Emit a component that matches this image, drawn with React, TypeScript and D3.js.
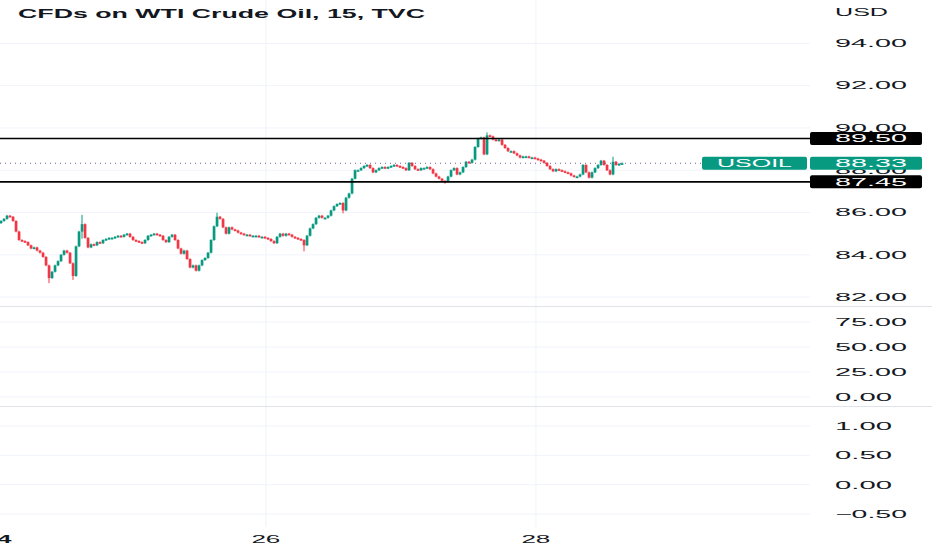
import React from 'react';
import * as d3 from 'd3';

// 15-minute closes left to right
const closes: number[] = [
  85.6, 85.7, 85.85, 85.8, 85.6, 85.1, 84.7, 84.65, 84.6, 84.45,
  84.3, 84.35, 84.2, 84.1, 83.9, 83.5, 82.9, 83.2, 83.5, 83.7,
  84.0, 84.2, 84.1, 83.6, 83.0, 84.4, 85.1, 85.45, 84.8, 84.35,
  84.5, 84.45, 84.6, 84.55, 84.7, 84.75, 84.8, 84.8, 84.85, 84.9,
  84.85, 84.95, 85.0, 84.85, 84.7, 84.65, 84.6, 84.55, 84.7, 84.9,
  84.95, 85.0, 84.95, 84.9, 84.7, 84.6, 84.85, 84.95, 84.7, 84.3,
  84.05, 84.2, 83.8, 83.4, 83.5, 83.25, 83.5, 83.75, 83.85, 84.1,
  84.7, 85.35, 85.8, 85.7, 85.3, 85.0, 85.3, 85.2, 85.15, 85.05,
  85.0, 84.95, 84.95, 84.9, 84.9, 84.9, 84.85, 84.85, 84.8, 84.75,
  84.65, 84.55, 84.85, 85.0, 84.9, 85.0, 84.95, 84.85, 84.8, 84.75,
  84.7, 84.45, 84.9, 85.25, 85.45, 85.75, 85.85, 85.75, 85.75, 85.85,
  86.1, 86.3, 86.4, 86.45, 86.1, 86.7, 86.9, 87.6, 88.0, 88.0,
  88.1, 88.2, 88.25, 88.1, 87.9, 88.0, 88.1, 88.15, 88.1, 88.15,
  88.2, 88.25, 88.2, 88.15, 88.1, 88.0, 88.35, 88.2, 88.05, 88.0,
  88.1, 88.1, 88.15, 88.05, 87.85, 87.7, 87.6, 87.5, 87.45, 87.7,
  88.0, 88.1, 87.8, 87.9, 88.15, 88.4, 88.35, 88.5, 89.1, 89.5,
  89.55, 88.75, 89.65, 89.6, 89.45, 89.4, 89.45, 89.2, 89.05, 88.9,
  88.9, 88.8, 88.7, 88.6, 88.65, 88.65, 88.6, 88.6, 88.55, 88.5,
  88.45, 88.35, 88.2, 88.05, 87.95, 88.05, 88.0, 87.95, 87.9, 87.85,
  87.75, 87.7, 87.7, 87.8, 88.25, 87.9, 87.65, 87.9, 88.1, 88.25,
  88.45, 88.25, 88.0, 87.8, 88.4, 88.25, 88.3, 88.33,
];
const firstOpen = 85.5;

// [bar index, high, low] for the visible wicks
const wicks: [number, number, number][] = [
  [16, 83.2, 82.7],
  [24, 83.6, 82.85],
  [27, 85.85, 84.8],
  [72, 85.95, 85.35],
  [101, 84.7, 84.2],
  [114, 86.45, 86.0],
  [148, 87.5, 87.4],
  [162, 89.75, 88.75],
  [204, 88.6, 87.8],
];

const priceTicks = [94, 92, 90, 88, 86, 84, 82];
const oscTicks = [75, 50, 25, 0];
const lowTicks = [1, 0.5, 0, -0.5];
const dayTicks: { label: string; bar: number; bold?: boolean }[] = [
  { label: '24', bar: -1.3, bold: true },
  { label: '26', bar: 88.3 },
  { label: '28', bar: 178.3 },
];
const levels = [89.5, 87.45];
const lastPrice = 88.33;
const symbol = 'USOIL';
const title = 'CFDs on WTI Crude Oil, 15, TVC';

const W = 932;
const H = 550;
const plotRight = 810;
const UP = '#089981';
const DOWN = '#f23645';
const GRID = '#f0f3fa';
const FONT = '"Liberation Sans", Arial, sans-serif';

const x = d3.scaleLinear().domain([0, closes.length - 1]).range([1, 622]);
const yPrice = d3.scaleLinear().domain([81.58, 96.05]).range([306, 0]);
const yOsc = d3.scaleLinear().domain([-9, 91]).range([406, 306]);
const yLow = d3.scaleLinear().domain([-0.72, 1.34]).range([527, 406]);

const candles = closes.map((c, i) => {
  const o = i === 0 ? firstOpen : closes[i - 1];
  const w = wicks.find(d => d[0] === i);
  return {
    i,
    o,
    c,
    h: Math.max(o, c, w ? w[1] : -Infinity),
    l: Math.min(o, c, w ? w[2] : Infinity),
  };
});

const labelWidth = (s: string) => (s.length >= 5 ? 72 : 57);

const AxisLabel = ({ y, text, fill = '#131722' }: { y: number; text: string; fill?: string }) => (
  <text
    x={835}
    y={y + 3.8}
    fontSize={10.5}
    fontFamily={FONT}
    fill={fill}
    textLength={labelWidth(text)}
    lengthAdjust="spacingAndGlyphs"
  >
    {text}
  </text>
);

const PriceBox = ({ y, text, bg }: { y: number; text: string; bg: string }) => (
  <g>
    <rect x={810} y={y - 6.5} width={112} height={13} rx={2} fill={bg} />
    <AxisLabel y={y} text={text} fill="#ffffff" />
  </g>
);

const fmt = (v: number) => (v < 0 ? '\u2212' + Math.abs(v).toFixed(2) : v.toFixed(2));

export default function App() {
  return (
    <svg
      width={W}
      height={H}
      style={{ position: 'fixed', left: 0, top: 0, background: '#ffffff' }}
    >
      {/* horizontal grid */}
      {priceTicks.map(t => (
        <line key={'pg' + t} x1={0} x2={plotRight} y1={yPrice(t)} y2={yPrice(t)} stroke={GRID} />
      ))}
      {oscTicks.map(t => (
        <line key={'og' + t} x1={0} x2={plotRight} y1={yOsc(t)} y2={yOsc(t)} stroke={GRID} />
      ))}
      {lowTicks.map(t => (
        <line key={'lg' + t} x1={0} x2={plotRight} y1={yLow(t)} y2={yLow(t)} stroke={GRID} />
      ))}
      {/* vertical grid */}
      {dayTicks.map(d => (
        <line key={'vg' + d.label} x1={x(d.bar)} x2={x(d.bar)} y1={0} y2={527} stroke={GRID} />
      ))}
      {/* pane separators */}
      <line x1={0} x2={W} y1={306.5} y2={306.5} stroke="#e0e3eb" />
      <line x1={0} x2={W} y1={406.5} y2={406.5} stroke="#e0e3eb" />

      {/* candles */}
      {candles.map(d => {
        const col = d.c >= d.o ? UP : DOWN;
        const top = yPrice(Math.max(d.o, d.c));
        const bot = yPrice(Math.min(d.o, d.c));
        return (
          <g key={d.i}>
            <line x1={x(d.i)} x2={x(d.i)} y1={yPrice(d.h) - 0.8} y2={yPrice(d.l) + 0.8} stroke={col} strokeWidth={1} />
            <rect x={x(d.i) - 1.3} y={top} width={2.7} height={Math.max(bot - top, 1.6)} fill={col} />
          </g>
        );
      })}

      {/* horizontal levels */}
      {levels.map(l => (
        <line key={'lv' + l} x1={0} x2={plotRight} y1={yPrice(l)} y2={yPrice(l)} stroke="#000000" strokeWidth={1.6} />
      ))}
      <line
        x1={0}
        x2={702}
        y1={yPrice(lastPrice)}
        y2={yPrice(lastPrice)}
        stroke="#7b5a8e"
        strokeWidth={1}
        strokeDasharray="1 4"
      />

      {/* title */}
      <text
        x={18}
        y={17.5}
        fontSize={12.5}
        fontWeight="bold"
        fontFamily={FONT}
        fill="#131722"
        textLength={407}
        lengthAdjust="spacingAndGlyphs"
      >
        {title}
      </text>

      {/* right axis */}
      <text x={835} y={16} fontSize={10.5} fontFamily={FONT} fill="#131722" textLength={53} lengthAdjust="spacingAndGlyphs">
        USD
      </text>
      {priceTicks.map(t => (
        <AxisLabel key={'pl' + t} y={yPrice(t)} text={fmt(t)} />
      ))}
      {oscTicks.map(t => (
        <AxisLabel key={'ol' + t} y={yOsc(t)} text={fmt(t)} />
      ))}
      {lowTicks.map(t => (
        <AxisLabel key={'ll' + t} y={yLow(t)} text={fmt(t)} />
      ))}

      {/* price labels */}
      {levels.map(l => (
        <PriceBox key={'pb' + l} y={yPrice(l)} text={l.toFixed(2)} bg="#000000" />
      ))}
      <rect x={702} y={yPrice(lastPrice) - 6.5} width={105} height={13} rx={2} fill={UP} />
      <text
        x={717}
        y={yPrice(lastPrice) + 3.8}
        fontSize={10.5}
        fontFamily={FONT}
        fill="#ffffff"
        textLength={75}
        lengthAdjust="spacingAndGlyphs"
      >
        {symbol}
      </text>
      <PriceBox y={yPrice(lastPrice)} text={lastPrice.toFixed(2)} bg={UP} />

      {/* time axis */}
      {dayTicks.map(d => (
        <text
          key={'dt' + d.label}
          x={x(d.bar)}
          y={543}
          textAnchor="middle"
          fontSize={10.5}
          fontWeight={d.bold ? 'bold' : 'normal'}
          fontFamily={FONT}
          fill="#131722"
          textLength={29}
          lengthAdjust="spacingAndGlyphs"
        >
          {d.label}
        </text>
      ))}
    </svg>
  );
}
